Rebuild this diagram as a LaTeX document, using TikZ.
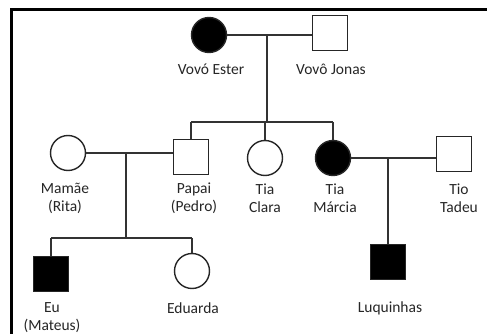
\documentclass[tikz,border=0pt]{standalone}
\usepackage{fontspec}
\setmainfont{Carlito}
\begin{document}
\begin{tikzpicture}[x=1pt,y=-1pt,
  person/.style={draw=black!85,line width=1.4pt,inner sep=0pt},
  fem/.style={person,circle,minimum size=35pt},
  masc/.style={person,rectangle,minimum size=35pt},
  aff/.style={fill=black},
  lbl/.style={font=\fontsize{15.5pt}{18pt}\selectfont,align=center,text=black!85,inner sep=0pt},
  link/.style={draw=black!80,line width=1.6pt}]
\useasboundingbox (0,0) rectangle (487,334);
\fill[white] (0,0) rectangle (487,334);
\draw[line width=3pt] (11,334) -- (11,10) -- (487,10);
% grandparents
\node[fem,aff] (ester) at (209,35) {};
\node[masc] (jonas) at (330,33) {};
\node[lbl] (lester) at (211,69) {Vovó Ester};
\node[lbl] (ljonas) at (331,69) {Vovô Jonas};
% generation 2
\node[fem] (mamae) at (68,153) {};
\node[masc] (papai) at (191,157) {};
\node[fem] (clara) at (265,158) {};
\node[fem,aff] (marcia) at (333,158) {};
\node[masc] (tadeu) at (454,154) {};
\node[lbl] (lmamae) at (65,198) {Mamãe\\(Rita)};
\node[lbl] (lpapai) at (194,198) {Papai\\(Pedro)};
\node[lbl] (lclara) at (265,198) {Tia\\Clara};
\node[lbl] (lmarcia) at (335,198) {Tia\\Márcia};
\node[lbl] (ltadeu) at (459,198) {Tio\\Tadeu};
% generation 3
\node[masc,aff] (eu) at (51,274) {};
\node[fem] (eduarda) at (192,271) {};
\node[masc,aff] (luq) at (388,262) {};
\node[lbl] (leu) at (52,318) {Eu\\(Mateus)};
\node[lbl] (leduarda) at (193,308) {Eduarda};
\node[lbl] (lluq) at (390,308) {Luquinhas};
% couple 1
\draw[link] (ester.east) -- (jonas.west |- ester.east);
\coordinate (m1) at (267,35);
\coordinate (s1) at (267,122);
\draw[link] (m1) -- (s1);
\draw[link] (papai.north |- s1) -- (marcia.north |- s1);
\draw[link] (papai.north |- s1) -- (papai.north);
\draw[link] (clara.north |- s1) -- (clara.north);
\draw[link] (marcia.north |- s1) -- (marcia.north);
% couple 2
\draw[link] (mamae.east) -- (mamae.east -| papai.west);
\coordinate (m2) at (126,153);
\coordinate (s2) at (126,238);
\draw[link] (m2) -- (s2);
\draw[link] (eu.north |- s2) -- (eduarda.north |- s2);
\draw[link] (eu.north |- s2) -- (eu.north);
\draw[link] (eduarda.north |- s2) -- (eduarda.north);
% couple 3
\draw[link] (marcia.east) -- (marcia.east -| tadeu.west);
\coordinate (m3) at (388,158);
\draw[link] (m3) -- (luq.north);
\end{tikzpicture}
\end{document}
